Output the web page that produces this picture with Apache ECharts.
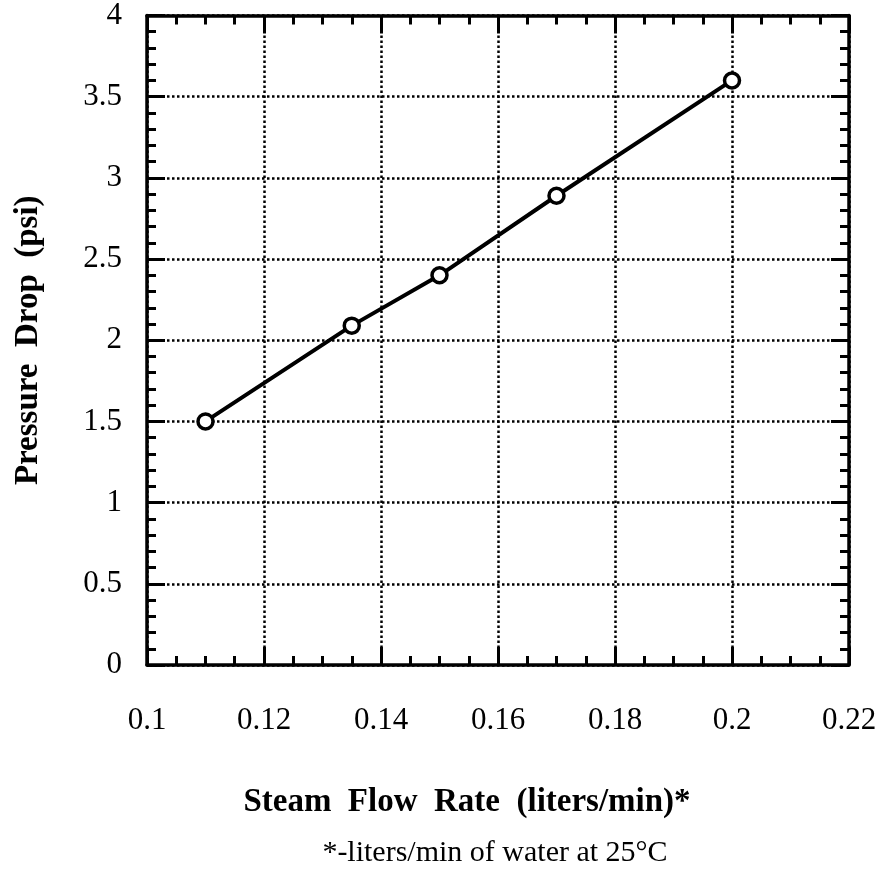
<!DOCTYPE html>
<html>
<head>
<meta charset="utf-8">
<script src="https://cdn.jsdelivr.net/npm/echarts@6/dist/echarts.min.js"></script>
<style>
  html, body { margin: 0; padding: 0; background: #ffffff; }
  #chart { width: 881px; height: 879px; }
</style>
</head>
<body>
<div id="chart"></div>
<script>
  // flow rate (liters/min) vs pressure drop (psi)
  const flowRate = [0.11, 0.135, 0.15, 0.17, 0.2];
  const pressureDrop = [1.5, 2.09, 2.4, 2.89, 3.6];
  const xTicks = [0.1, 0.22, 0.02];
  const yTicks = [0, 4, 0.5];

  const serif = 'Liberation Serif';
  const chart = echarts.init(document.getElementById('chart'));

  // shared axis look: thick frame, inward ticks
  function frameAxis(showLabel, min, max, interval, minorSplit, grid, labelMargin) {
    return {
      type: 'value',
      min: min,
      max: max,
      interval: interval,
      axisLine: { show: true, onZero: false, lineStyle: { color: '#000', width: 3.5 } },
      axisTick: { show: true, inside: true, length: 18, lineStyle: { color: '#000', width: 3 } },
      minorTick: { show: true, splitNumber: minorSplit, length: 9, lineStyle: { color: '#000', width: 3 } },
      splitLine: { show: grid, lineStyle: { color: '#000', width: 2.5, type: [2.5, 2.5] } },
      axisLabel: {
        show: showLabel,
        margin: labelMargin,
        color: '#000',
        fontFamily: serif,
        fontSize: 31,
        formatter: function (v) { return String(+v.toFixed(3)); }
      }
    };
  }

  const data = flowRate.map(function (x, i) { return [x, pressureDrop[i]]; });

  const xBottom = frameAxis(true, xTicks[0], xTicks[1], xTicks[2], 4, true, 40);
  const xTop = frameAxis(false, xTicks[0], xTicks[1], xTicks[2], 4, false, 0);
  xTop.position = 'top';
  const yLeft = frameAxis(true, yTicks[0], yTicks[1], yTicks[2], 5, true, 25);
  yLeft.name = 'Pressure  Drop  (psi)';
  yLeft.nameLocation = 'middle';
  yLeft.nameGap = 102;
  yLeft.nameTextStyle = { color: '#000', fontFamily: serif, fontWeight: 'bold', fontSize: 33 };
  const yRight = frameAxis(false, yTicks[0], yTicks[1], yTicks[2], 5, false, 0);
  yRight.position = 'right';

  const option = {
    backgroundColor: '#ffffff',
    animation: false,
    grid: { left: 147, right: 32, top: 15, bottom: 214 },
    xAxis: [xBottom, xTop],
    yAxis: [yLeft, yRight],
    graphic: [
      {
        type: 'text',
        x: 467, y: 802,
        style: {
          text: 'Steam  Flow  Rate  (liters/min)*',
          fill: '#000',
          font: 'bold 33px "Liberation Serif"',
          align: 'center',
          verticalAlign: 'middle'
        }
      },
      {
        type: 'text',
        x: 495, y: 853,
        style: {
          text: '*-liters/min of water at 25°C',
          fill: '#000',
          font: '30px "Liberation Serif"',
          align: 'center',
          verticalAlign: 'middle'
        }
      }
    ],
    series: [
      {
        type: 'line',
        xAxisIndex: 0,
        yAxisIndex: 0,
        data: data,
        symbol: 'circle',
        symbolSize: 15,
        lineStyle: { color: '#000', width: 4 },
        itemStyle: { color: '#fff', borderColor: '#000', borderWidth: 3.5 }
      }
    ]
  };

  chart.setOption(option);
</script>
</body>
</html>
